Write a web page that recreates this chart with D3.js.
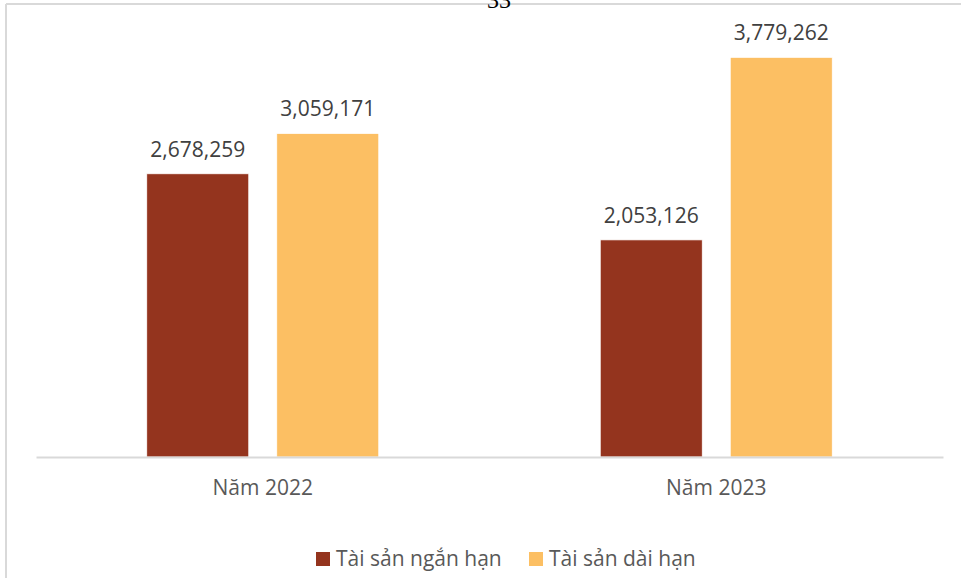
<!DOCTYPE html>
<html>
<head>
<meta charset="utf-8">
<script src="https://cdn.jsdelivr.net/npm/d3@7"></script>
<style>
    body { margin: 0; background: #fff; }
    #chart { width: 961px; height: 578px; }
</style>
</head>
<body>
<div id="chart"></div>
<script>
const years = ["Năm 2022", "Năm 2023"];
const seriesNames = ["Tài sản ngắn hạn", "Tài sản dài hạn"];
const shortTerm = [2678259, 2053126];
const longTerm = [3059171, 3779262];
const seriesColors = ["#94341E", "#FCBF63"];

document.addEventListener("DOMContentLoaded", () => {
    const W = 961, H = 578;
    const margin = { top: 34, right: 18, bottom: 121, left: 36 };
    const width = W - margin.left - margin.right;
    const height = H - margin.top - margin.bottom;
    const font = "'Open Sans', 'Noto Sans', sans-serif";

    const svg = d3.select("#chart")
        .append("svg")
        .attr("width", W)
        .attr("height", H);

    // frame of the embedded chart (page border)
    svg.append("line").attr("x1", 6).attr("x2", W).attr("y1", 4).attr("y2", 4)
        .attr("stroke", "#d9d9d9").attr("stroke-width", 2);
    svg.append("line").attr("x1", 6).attr("x2", 6).attr("y1", 4).attr("y2", H)
        .attr("stroke", "#d9d9d9").attr("stroke-width", 2);

    // page number cut off at the top
    svg.append("text")
        .attr("x", 499).attr("y", 8)
        .attr("text-anchor", "middle")
        .style("font-family", "'Liberation Serif', serif")
        .style("font-size", "24px")
        .attr("fill", "#000")
        .text("33");

    const g = svg.append("g").attr("transform", `translate(${margin.left},${margin.top})`);

    const data = years.map((y, i) => ({ year: y, values: [shortTerm[i], longTerm[i]] }));

    const x0 = d3.scaleBand().domain(years).range([0, width]).paddingInner(0).paddingOuter(0);
    const x1 = d3.scaleBand().domain(seriesNames).range([0, 232]).paddingInner(28 / 130).paddingOuter(0);
    const y = d3.scaleLinear().domain([0, 4000000]).range([height, 0]);

    const groups = g.selectAll(".grp")
        .data(data)
        .enter()
        .append("g")
        .attr("transform", d => `translate(${x0(d.year) + (x0.bandwidth() - 232) / 2},0)`);

    groups.selectAll("rect")
        .data(d => d.values.map((v, i) => ({ name: seriesNames[i], value: v, i })))
        .enter()
        .append("rect")
        .attr("x", d => x1(d.name))
        .attr("y", d => y(d.value))
        .attr("width", x1.bandwidth())
        .attr("height", d => height - y(d.value))
        .attr("fill", d => seriesColors[d.i])
        .attr("stroke", "#fff")
        .attr("stroke-width", 0.75);

    groups.selectAll(".lbl")
        .data(d => d.values.map((v, i) => ({ name: seriesNames[i], value: v, i })))
        .enter()
        .append("text")
        .attr("x", d => x1(d.name) + x1.bandwidth() / 2)
        .attr("y", d => y(d.value) - 17)
        .attr("text-anchor", "middle")
        .style("font-family", font)
        .style("font-size", "21px")
        .attr("fill", "#404040")
        .text(d => d3.format(",")(d.value));

    // x axis
    const xAxis = g.append("g")
        .attr("transform", `translate(0,${height})`)
        .call(d3.axisBottom(x0).tickSize(0).tickPadding(23));
    xAxis.select(".domain").attr("stroke", "#d9d9d9").attr("stroke-width", 2);
    xAxis.selectAll("text")
        .style("font-family", font)
        .style("font-size", "21px")
        .attr("fill", "#595959");

    // legend
    const legendX = [316, 529];
    const legend = svg.append("g");
    seriesNames.forEach((name, i) => {
        legend.append("rect")
            .attr("x", legendX[i]).attr("y", 552)
            .attr("width", 14).attr("height", 14)
            .attr("fill", seriesColors[i]);
        legend.append("text")
            .attr("x", legendX[i] + 20).attr("y", 566)
            .style("font-family", font)
            .style("font-size", "21px")
            .attr("fill", "#595959")
            .text(name);
    });
});
</script>
</body>
</html>
